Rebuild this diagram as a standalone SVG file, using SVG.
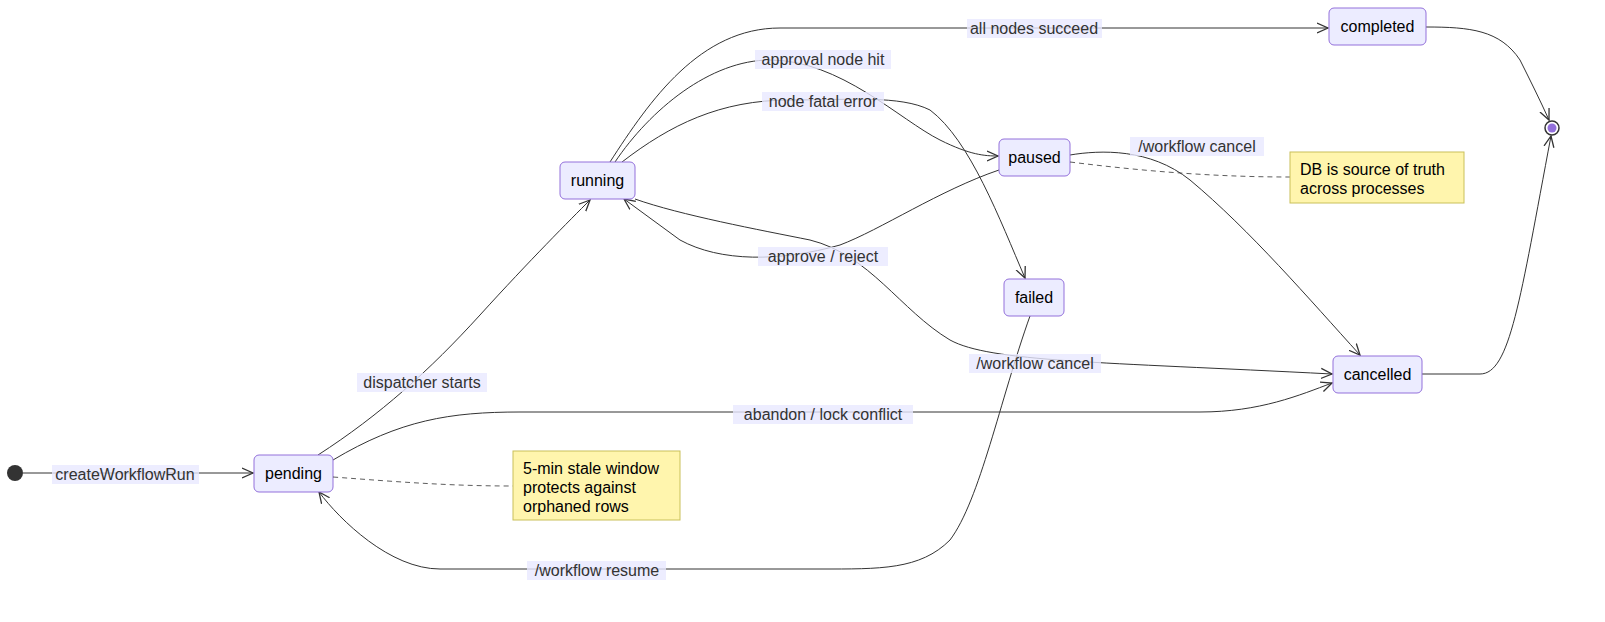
<svg xmlns="http://www.w3.org/2000/svg" width="1605" height="622" viewBox="0 0 1605 622">
<style>
.n rect{fill:#ececff;stroke:#9370db;stroke-width:1}
.n text,.note text{font-family:"Liberation Sans",Arial,sans-serif;font-size:16px;fill:#000}
.e path{fill:none;stroke:#333;stroke-width:1}
.lb rect{fill:#e8e8ff;opacity:0.8}
.lb text{font-family:"Liberation Sans",Arial,sans-serif;font-size:16px;fill:#333;text-anchor:middle}
.note rect{fill:#fff5ad;stroke:#c9c05a}
.d{fill:none;stroke:#333;stroke-dasharray:5 4;stroke-width:0.8}
</style>
<defs><marker id="a" viewBox="0 0 12 12" refX="11" refY="6" markerWidth="12" markerHeight="12" orient="auto" markerUnits="userSpaceOnUse"><path d="M0,1 L11,6 L0,11" fill="none" stroke="#333" stroke-width="1.3"/></marker></defs>
<g id="start"><circle cx="15" cy="473" r="8" fill="#333"/></g>
<g id="end"><circle cx="1552" cy="128" r="7" fill="#fff" stroke="#333" stroke-width="1.5"/><circle cx="1552" cy="128" r="4.5" fill="#9370db"/></g>
<g class="e" id="connectors" marker-end="url(#a)">
<path d="M23,473 L253,473"/>
<path d="M318,455 C380,415 430,370 480,315 C530,260 570,220 590,200"/>
<path d="M610,162 C650,100 700,28 780,28 L1328,28"/>
<path d="M615,162 C650,110 710,60 770,60 C840,60 900,120 940,140 C970,155 985,156 998,156"/>
<path d="M622,162 C670,125 720,100 790,100 C850,100 900,95 930,110 C970,140 1000,220 1025,278"/>
<path d="M999,170 C940,190 880,230 840,245 C780,262 720,262 680,240 L624,199"/>
<path d="M635,199 C680,215 760,230 810,240 C870,255 900,310 950,340 C990,362 1100,362 1332,374"/>
<path d="M1070,155 C1100,150 1150,148 1190,180 C1250,230 1310,300 1360,355"/>
<path d="M333,460 C400,420 450,412 520,412 L1200,412 C1260,412 1300,395 1332,383"/>
<path d="M1030,316 C1000,400 980,500 950,540 C920,570 880,569 820,569 L440,569 C390,569 340,520 319,492"/>
<path d="M1426,27 C1470,27 1500,30 1520,60 C1530,80 1540,100 1549,120"/>
<path d="M1422,374 L1480,374 C1510,374 1520,300 1551,136"/>
</g>
<g id="labels">
<g class="lb"><rect x="52" y="465" width="147" height="19"/><text x="125" y="480">createWorkflowRun</text></g>
<g class="lb"><rect x="357" y="373" width="130" height="19"/><text x="422" y="388">dispatcher starts</text></g>
<g class="lb"><rect x="967" y="19" width="135" height="19"/><text x="1034" y="34">all nodes succeed</text></g>
<g class="lb"><rect x="755" y="50" width="136" height="19"/><text x="823" y="65">approval node hit</text></g>
<g class="lb"><rect x="762" y="92" width="122" height="19"/><text x="823" y="107">node fatal error</text></g>
<g class="lb"><rect x="758" y="247" width="130" height="19"/><text x="823" y="262">approve / reject</text></g>
<g class="lb"><rect x="969" y="354" width="132" height="19"/><text x="1035" y="369">/workflow cancel</text></g>
<g class="lb"><rect x="1130" y="137" width="134" height="19"/><text x="1197" y="152">/workflow cancel</text></g>
<g class="lb"><rect x="733" y="405" width="180" height="19"/><text x="823" y="420">abandon / lock conflict</text></g>
<g class="lb"><rect x="527" y="561" width="139" height="19"/><text x="597" y="576">/workflow resume</text></g>
</g>
<g id="pending" class="n"><rect x="254" y="455" width="79" height="37" rx="5"/><text x="293.5" y="479" text-anchor="middle">pending</text></g>
<g id="running" class="n"><rect x="560" y="162" width="75" height="37" rx="5"/><text x="597.5" y="186" text-anchor="middle">running</text></g>
<g id="paused" class="n"><rect x="999" y="139" width="71" height="37" rx="5"/><text x="1034.5" y="163" text-anchor="middle">paused</text></g>
<g id="failed" class="n"><rect x="1004" y="279" width="60" height="37" rx="5"/><text x="1034" y="303" text-anchor="middle">failed</text></g>
<g id="completed" class="n"><rect x="1329" y="8" width="97" height="37" rx="5"/><text x="1377.5" y="32" text-anchor="middle">completed</text></g>
<g id="cancelled" class="n"><rect x="1333" y="356" width="89" height="37" rx="5"/><text x="1377.5" y="380" text-anchor="middle">cancelled</text></g>
<path class="d" d="M1070,162 C1150,172 1220,177 1290,177"/>
<path class="d" d="M333,477 C400,482 450,486 513,486"/>
<g id="note1" class="note"><rect x="1290" y="152" width="174" height="51"/><text x="1300" y="175">DB is source of truth</text><text x="1300" y="194">across processes</text></g>
<g id="note2" class="note"><rect x="513" y="451" width="167" height="69"/><text x="523" y="474">5-min stale window</text><text x="523" y="493">protects against</text><text x="523" y="512">orphaned rows</text></g>
</svg>
